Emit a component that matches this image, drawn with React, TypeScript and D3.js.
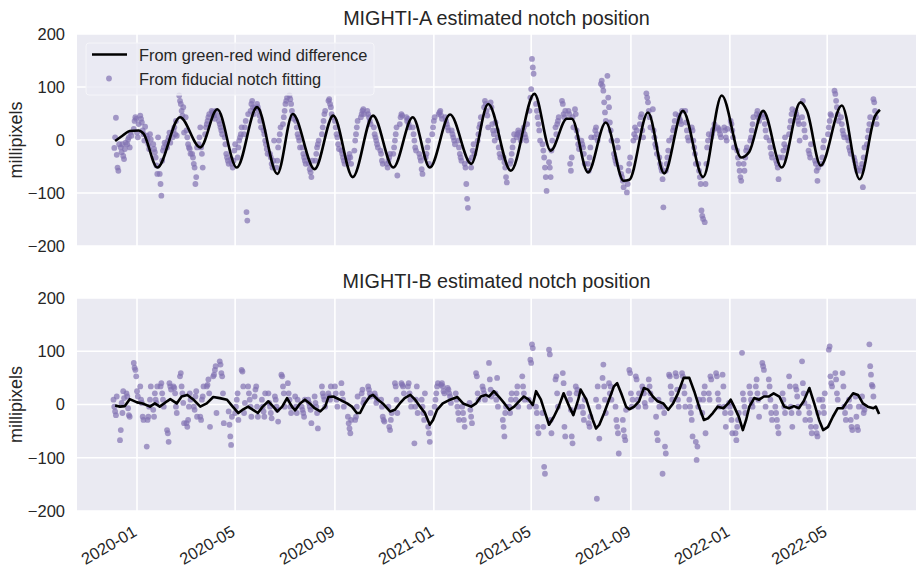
import React from "react";
import * as d3 from "d3";

// ---------- data ----------
const tickLabels = ["2020-01", "2020-05", "2020-09", "2021-01", "2021-05", "2021-09", "2022-01", "2022-05"];
const yTicks = [-200, -100, 0, 100, 200];
const titles = ["MIGHTI-A estimated notch position", "MIGHTI-B estimated notch position"];
const legendLabels = ["From green-red wind difference", "From fiducial notch fitting"];
const yLabel = "millipixels";

// line series: [days since 2020-01-01, millipixels]
const lineA: [number, number][] = [
  [-27, -2], [-18, 8], [-9, 17], [2, 18], [8, 12], [25, -52], [53, 43], [78, -14], [99, 58], [123, -52],
  [148, 62], [173, -64], [192, 49], [219, -55], [242, 46], [266, -70], [291, 46], [316, -52], [340, 43],
  [361, -52], [386, 48], [412, -45], [433, 68], [461, -58], [490, 87], [510, -20], [530, 40], [536, 40],
  [556, -61], [578, 33], [600, -77], [607, -75], [630, 52], [650, -63], [673, 55], [698, -70], [721, 84],
  [745, -33], [755, -22], [772, 55], [795, -52], [818, 71], [826, 55], [843, -48], [869, 65], [891, -74],
  [910, 45], [916, 57],
];

const lineB: [number, number][] = [
  [-27, -2], [-21, -4], [-15, -3], [-9, 10], [0, 4], [7, 2], [16, -4], [22, 2], [28, -4], [37, 6], [41, 10],
  [49, 2], [55, 15], [62, 18], [69, 10], [78, -4], [86, 2], [94, 14], [102, 12], [111, 9], [118, -4],
  [125, -16], [131, -9], [137, -4], [143, -10], [149, -16], [155, -4], [162, 6], [168, -4], [173, -13],
  [179, -4], [185, 12], [191, -4], [195, -11], [201, 2], [207, 9], [213, 2], [219, -7], [226, -13],
  [232, -4], [236, 14], [242, 15], [250, 9], [259, 2], [265, -4], [271, -16], [275, -16], [281, 2],
  [287, 15], [291, 18], [297, 9], [303, 2], [312, -13], [318, -10], [324, 2], [330, 12], [337, 18],
  [343, 9], [349, -4], [355, -16], [361, -38], [365, -29], [370, -10], [377, 2], [386, 9], [395, 14],
  [402, 2], [412, -4], [418, 2], [424, 15], [430, 18], [434, 15], [440, 25], [446, 15], [453, 2],
  [459, -10], [465, -4], [471, 6], [477, 15], [483, 9], [488, -1], [492, 25], [498, 9], [502, -10],
  [508, -38], [514, -23], [520, -4], [526, 21], [533, -4], [538, -20], [544, 9], [547, 28], [554, 9],
  [562, -29], [566, -45], [570, -38], [576, -16], [582, 9], [588, 34], [592, 40], [597, 21], [603, -4],
  [607, -9], [613, -4], [619, 6], [625, 31], [630, 28], [636, 15], [642, 6], [649, 2], [655, -10],
  [661, 2], [667, 21], [674, 50], [681, 50], [687, 25], [693, -4], [699, -29], [704, -26], [710, -16],
  [716, -4], [723, -7], [729, 2], [732, 9], [736, -3], [742, -23], [747, -48], [751, -29], [755, -4],
  [761, 12], [767, 9], [773, 15], [779, 15], [785, 21], [792, 15], [798, -4], [804, -7], [810, -3],
  [816, -7], [822, 6], [829, 31], [835, 2], [841, -29], [846, -48], [852, -42], [858, -23], [864, -7],
  [870, -7], [877, 9], [883, 21], [889, 18], [895, 2], [901, -4], [908, -7], [911, -4], [915, -18],
];

// scatter series: [first day of run, consecutive daily values]
const scatterA: [number, number[]][] = [
  [-28, [-15, 5, 42, -28, -52, -58, -8]], [-20, [-14, -23, -8, -30, -36, -17, -5]], [-12, [-8, 1, 5, -14, 14, 8]],
  [-4, [21, 36, 43, 40, 14, 5, 30]], [4, [46, 40, 33, 18, 11, -1, 25]], [12, [8, 2, -8, -17, 11, 1]],
  [20, [-8, -17, -23, -33, -48, -64, 5]], [28, [-64, -83, -105, -39, -20, -14, -5]], [36, [-8, -14, -1, 5, 14, -5]],
  [44, [5, 18, 24, 11, 36, 8]], [52, [84, 74, 68, 55, 46, 62, 14]], [60, [43, 18, 5, -8, -14, -17, -26]],
  [68, [-26, -33, -45, -52, -83, -70, -14]], [76, [-8, 5, 24, -14, -26, -52]], [84, [11, 24, 30, 36, 43, 49]],
  [92, [55, 52, 49, 46, 40, 55]], [100, [46, 36, 30, 24, 18, 11]], [108, [5, -8, -26, -33, -39, -45]],
  [116, [-36, -45, -52, -39, -20, -8]], [124, [-33, -14, -1, 5, 11, 24]], [132, [11, 24, 36, -136, -152, 49]],
  [140, [55, 68, 74, 62, 49, 60]], [148, [68, 62, 55, 46, 36, 24]], [156, [18, 11, -1, -8, -17, -26]],
  [164, [-26, -33, -45, -52, -39, -1]], [172, [-52, -39, -14, -1, 11, 24]], [180, [30, 43, 55, 68, 74, 80]],
  [188, [84, 77, 68, 55, 46, 40]], [196, [36, 24, 11, 5, -1, -14]], [204, [-14, -26, -33, -39, -45]],
  [212, [-45, -55, -61, -70, -39]], [220, [-39, -26, -14, -8, -1]], [228, [11, 24, 36, 49, 55]],
  [236, [74, 77, 68, 62, 49, 43]], [244, [36, 24, 11, 5, -8, -17]], [252, [-20, -26, -33, -39, -45]],
  [260, [-39, -33, -26, -33, -45]], [268, [-20, -1, 11, 24, 36]], [276, [43, 49, 55, 58, 49]],
  [284, [55, 49, 43, 36, 30]], [292, [24, 11, 5, -1, -8, -14]], [300, [-20, -26, -39, -45]],
  [308, [-45, -52, -39, -33, -26]], [316, [-26, -14, -1, 11, 24, -67]], [324, [30, 43, 49, 46]],
  [332, [43, 36, 40, 30, 24]], [340, [24, 11, -1, -14, -20]], [348, [-26, -33, -39, -55, -64]],
  [356, [-33, -26, -14, -1, -45]], [364, [11, 24, 36, 43]], [372, [49, 52, 55, 46, 40]],
  [380, [43, 36, 30, 24, 18]], [388, [18, 11, 5, -1, -8]], [396, [-1, -14, -26, -33, -39]],
  [404, [-45, -52, -83, -111, -128, -39]], [412, [-52, -33, -20, -8, -26]], [420, [-1, 11, 24, 30, 43]],
  [428, [62, 74, 68, 55, 46, 24]], [436, [71, 62, 30, 18, 11, -1, 33]], [444, [18, 5, -14, -26, -33]],
  [452, [-33, -42, -52, -70, -80]], [460, [-45, -39, -26, -14, -1, 11]], [468, [5, 11, 18, 14, 8, -1]],
  [476, [18, 24, 11, 5, -1, 30]], [484, [55, 80, 96, 153, 137, 125]], [492, [68, 55, 43, 30, 18, -1]],
  [500, [-8, -20, -33, -52, -70, -96]], [508, [-42, -52, -70, -20, -1]], [516, [24, 11, 30, 36, 43]],
  [524, [74, 68, 49, 43, 55]], [532, [55, 49, -45, -58, -33, 43, 24]], [540, [58, 49, 18, 5, -8, -17]],
  [548, [-1, -8, -14, -26, -45]], [556, [-45, -58, -33, -14, 5]], [564, [5, 18, 24, 11, -1]],
  [572, [106, 112, 102, 93, 71, 52, 36]], [580, [121, 80, 62, 33, 18, -1]], [588, [-26, -33, -39, -45, -1, -14]],
  [596, [-52, -64, -70, -77, -89]], [604, [-99, -83, -58, -45, -33]], [612, [-1, 11, 24, 5, 18]],
  [620, [30, 43, 49, 18, 5]], [628, [88, 80, 71, 55, 43, 24]], [636, [58, 18, 5, -8, -14, -26]],
  [644, [-33, -45, -52, -58, -74, -127]], [652, [-58, -45, -33, -20, -1]], [660, [5, 18, 24, 36, 49]],
  [668, [46, 40, 36, 30, 55]], [676, [55, 33, 18, 5, -1]], [684, [24, 18, -1, -14, -26, -45]],
  [692, [-45, -58, -70, -83, -133, -143, -149]], [700, [-155, -83, -45, -14, -1, 11]], [708, [5, 11, 18, 21, 30]],
  [716, [24, 21, 18, 11, 5]], [724, [24, 18, 5, -1, 21]], [732, [36, 30, 18, 5, -14]],
  [740, [-20, -33, -45, -58, -70, -77]], [748, [-45, -58, -33, -20, -14]], [756, [-1, 5, 18, 30, 43]],
  [764, [49, 55, 43, 36, 46]], [772, [49, 43, 30, 18, 5]], [780, [-1, -14, -26, -33]],
  [788, [-39, -45, -52, -74, -33]], [796, [-33, -20, -8, 5, -14]], [804, [11, 24, 36, 49, 58]],
  [812, [55, 49, 43, 36, 30, -1]], [820, [43, 74, 30, 18, 5]], [828, [-20, -26, -33, -8]],
  [836, [-39, -45, -58, -77, -52]], [844, [-45, -33, -14, -1]], [852, [11, 24, 36, 49, 46]],
  [860, [93, 87, 74, 62, 49, 36]], [868, [43, 30, 18, 11, 5]], [876, [5, -1, -14, -20, -26]],
  [884, [-33, -39, -45, -52, -58]], [892, [-58, -52, -45, -89, -33, -14]], [900, [-8, 5, 18, 30, 43]],
  [908, [77, 71, 55, 43, 30]],
];

const scatterB: [number, number[]][] = [
  [-29, [9, -4, -13, -20, 15]], [-21, [-67, -48, 3, -16, 25, 12]], [-13, [21, 15, -7, -20, -23]],
  [-4, [78, 69, 65, 53, 25, 15]], [4, [34, 9, 3, -23, -29]], [12, [-79, -29, -23, -4, 9, 34]],
  [20, [-10, -23, 21, 9, 3, 34]], [29, [34, 40, 21, 9, -4]], [37, [-48, -54, -70, 40, 34, 28]],
  [45, [34, 31, 21, -4, -16]], [53, [53, 59, 34, 21, 3, -35]], [61, [-35, -42, -29, -4, 21, 9]],
  [70, [-4, -10, 15, 25, -23]], [78, [-23, -29, 9, 15, 34]], [86, [34, 37, 47, 21, -42]],
  [94, [53, 56, 65, 72, -16]], [102, [81, 75, 59, 53, 21, -35]], [113, [-13, -38, -60, -76, -23]],
  [121, [-16, -4, 9, 21, -29]], [129, [65, 62, 34, -16, 3]], [137, [34, 21, 9, -4, -23]],
  [145, [15, 28, 34, -4, -23]], [154, [9, -4, -13, -23, 21]], [162, [21, 3, -4, -16, -26]],
  [170, [15, 9, -4, -10, -32]], [178, [56, 53, 34, 21, -4]], [186, [40, 21, 9, -4, -16]],
  [195, [15, -4, -16, 9]], [203, [-4, -10, -16, -23, 9]], [211, [9, 3, -4, -10, -35]],
  [219, [15, 3, -4, -16, -45]], [228, [34, 21, 15, 9, -4]], [236, [21, 15, 9, 34]],
  [244, [34, 21, 9, -4]], [252, [40, 21, 9, -4]], [260, [-23, -35, -45, -54, -29]],
  [269, [-29, -23, -4, 15]], [277, [21, 28, 3, 9]], [285, [34, 28, 21, 15]], [293, [21, 15, 3, 9]],
  [301, [9, -4, -23, -29, -32]], [310, [-4, -42, -48, -29, -16]], [318, [40, 34, 9, -16]],
  [326, [40, 37, 34, 21]], [334, [34, 40, 21, 9, -4]], [342, [-73, -4, 9, 34, -16]],
  [351, [9, -4, -16, -29, 21]], [359, [-42, -54, -70, -16]], [367, [-4, 9, 21, 34, 40]],
  [375, [37, 40, 34, 25, 21]], [383, [31, 28, 21, 15, 3]], [393, [21, 9, -4, -16, -29]],
  [401, [-4, -16, -29, -42]], [410, [3, -10, -23, -35]], [418, [59, 53, 21, 9]], [426, [34, 28, 21, 9]],
  [434, [78, 47, 28, 15]], [442, [21, 9, 50, -4]], [451, [-29, -42, -60, -16, -4]], [459, [-4, -16, 9, 21]],
  [467, [9, 21, 34, -4]], [475, [53, 34, 21, 9]], [483, [9, -4, 84, 78, 113, 106]], [492, [-4, -16, -42, -54]],
  [500, [-16, -42, -117, -130]], [508, [103, 94, -29, -54]], [516, [47, 53, 21, -4]], [525, [59, 40, -42, -60]],
  [533, [21, 9, -10, -60, -73]], [541, [34, 21, 28, -4]], [549, [-4, -16, -29, 9]], [557, [-35, -42, -23]],
  [566, [9, -177, 34, -4, -64]], [574, [50, 75, 34, 9, -16]], [582, [40, 21, 34, 9]],
  [590, [-4, -29, -42, -54, -92]], [599, [-29, -48, -60, -67, -10]], [607, [65, 59, 21, -4, 9]],
  [615, [53, 47, 9, -4, 21]], [623, [34, 28, 21, 3, -4]], [631, [47, 34, 21, 9]],
  [640, [-23, -54, -67, 9, -4]], [648, [-130, -4, -16, -79, -92]], [656, [56, 53, 34, 21, 9]],
  [664, [59, 53, 28, 9, -4]], [672, [59, 53, 34, 21, -4]], [681, [9, -4, -16, -29, -60]],
  [689, [-70, -104, -79, -4, 9]], [697, [-16, 9, 21, 34, -54]], [705, [21, 9, 53, 47]],
  [714, [59, 53, 21, 9, -4]], [722, [56, 34, -4, -16, -42]], [730, [3, -4, -16, -29, -54]],
  [738, [-54, -67, -42, -29, -16]], [746, [97, 21, 9, -4, -16]], [755, [34, 21, 9, 3, -4]],
  [763, [34, 47, 21, 9, -23]], [771, [78, 72, 65, 21, -4]], [779, [47, 34, 9, -16, -29]],
  [787, [-4, -16, -29, -42, -54]], [796, [21, 9, -4, -16]], [804, [53, 34, -4, -16, -42]],
  [812, [34, 28, 15, -4, -16]], [820, [81, 40, 21, 3, -29]], [828, [-4, -16, -29, -42, -54]],
  [837, [-42, -54, -60, -16, 9]], [845, [9, -4, -16, 21]], [853, [103, 109, 53, 40, 34]],
  [861, [59, 47, 21, 9]], [870, [59, 34, -4, -16, -29]], [878, [9, -4, -29, -42, -48]],
  [886, [15, -23, -42, -48, -4]], [894, [15, -4, -16, -10]], [903, [113, 72, 56, 37, 34, 15]],
];

// ---------- helpers ----------
const EPOCH = Date.UTC(2020, 0, 1);
const dayToDate = (d: number) => new Date(EPOCH + d * 86400000);
const tickDates = tickLabels.map((s) => new Date(s + "-01T00:00:00Z"));

const FONT = "'Liberation Sans', Arial, sans-serif";
const TEXT = "#262626";
const BG = "#EAEAF2";
const PURPLE = "#8172B2";

const X0 = 77;
const X1 = 916;

const x = d3
  .scaleUtc()
  .domain([new Date(Date.UTC(2019, 9, 19)), new Date(Date.UTC(2022, 7, 18))])
  .range([77, 915.6]);

const panelsLayout = [
  { top: 34, bottom: 246, titleY: 25 },
  { top: 298, bottom: 511, titleY: 288 },
];

function Panel({ idx, line, scatter }: { idx: number; line: [number, number][]; scatter: [number, number[]][] }) {
  const { top, bottom, titleY } = panelsLayout[idx];
  const y = d3.scaleLinear().domain([-200, 200]).range([bottom, top]);
  const pts: [number, number][] = [];
  scatter.forEach(([d0, vals]) => vals.forEach((v, i) => pts.push([d0 + i, v])));
  const path = d3
    .line<[number, number]>()
    .x((d) => x(dayToDate(d[0])))
    .y((d) => y(d[1]))
    .curve(idx === 0 ? d3.curveMonotoneX : d3.curveLinear)(line) as string;
  const cx = (X0 + X1) / 2;
  const cy = (top + bottom) / 2;
  return (
    <g>
      <rect x={X0} y={top} width={X1 - X0} height={bottom - top} fill={BG} />
      {yTicks.map((t) => (
        <line key={"gy" + t} x1={X0} x2={X1} y1={y(t)} y2={y(t)} stroke="#fff" strokeWidth={1.6} />
      ))}
      {tickDates.map((t, i) => (
        <line key={"gx" + i} x1={x(t)} x2={x(t)} y1={top} y2={bottom} stroke="#fff" strokeWidth={1.6} />
      ))}
      {pts.map(([d, v], i) => (
        <circle key={i} cx={x(dayToDate(d))} cy={y(v)} r={2.9} fill={PURPLE} fillOpacity={0.7} />
      ))}
      <path d={path} fill="none" stroke="#000" strokeWidth={2.6} strokeLinejoin="round" />
      {yTicks.map((t) => (
        <text key={"ty" + t} x={65} y={y(t)} dy="0.36em" textAnchor="end" fontSize={16.5} fill={TEXT} fontFamily={FONT}>
          {t < 0 ? "\u2212" + Math.abs(t) : t}
        </text>
      ))}
      <text
        transform={`translate(22,${cy}) rotate(-90)`}
        textAnchor="middle"
        fontSize={18}
        fill={TEXT}
        fontFamily={FONT}
      >
        {yLabel}
      </text>
      <text x={cx} y={titleY} textAnchor="middle" fontSize={19.8} fill={TEXT} fontFamily={FONT}>
        {titles[idx]}
      </text>
      {idx === 0 && (
        <g>
          <rect x={86} y={43} width={288} height={52} rx={3} fill={BG} fillOpacity={0.8} stroke="#f5f5f9" strokeWidth={1} />
          <line x1={92} x2={127} y1={54.5} y2={54.5} stroke="#000" strokeWidth={2.6} />
          <text x={139} y={60.5} fontSize={16.4} fill={TEXT} fontFamily={FONT}>
            {legendLabels[0]}
          </text>
          <circle cx={109} cy={78.5} r={2.9} fill={PURPLE} fillOpacity={0.7} />
          <text x={139} y={84.5} fontSize={16.4} fill={TEXT} fontFamily={FONT}>
            {legendLabels[1]}
          </text>
        </g>
      )}
      {idx === 1 &&
        tickDates.map((t, i) => (
          <text
            key={"tx" + i}
            transform={`translate(${x(t) + 1},${535}) rotate(-30)`}
            textAnchor="end"
            fontSize={16.5}
            fill={TEXT}
            fontFamily={FONT}
          >
            {tickLabels[i]}
          </text>
        ))}
    </g>
  );
}

export default function App() {
  return (
    <div style={{ position: "absolute", left: 0, top: 0, width: 916, height: 567, background: "#fff" }}>
      <svg width={916} height={567} viewBox="0 0 916 567" style={{ display: "block" }}>
        <rect width={916} height={567} fill="#fff" />
        <Panel idx={0} line={lineA} scatter={scatterA} />
        <Panel idx={1} line={lineB} scatter={scatterB} />
      </svg>
    </div>
  );
}
